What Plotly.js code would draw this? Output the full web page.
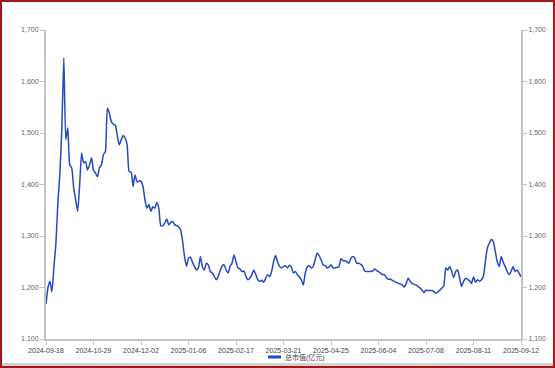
<!DOCTYPE html>
<html>
<head>
<meta charset="utf-8">
<script src="https://cdn.plot.ly/plotly-3.0.1.min.js"></script>
<style>
  html, body { margin: 0; padding: 0; background: #fff; }
  #wrap { position: relative; width: 555px; height: 368px; overflow: hidden; }
  #chart { position: absolute; left: 0; top: 0; width: 555px; height: 368px; }
  #frame { position: absolute; left: 0; top: 0; width: 555px; height: 368px; box-sizing: border-box;
           border: 2px solid #9e1a1a; pointer-events: none; }
  #shade { position: absolute; left: 2px; right: 2px; bottom: 2px; height: 3px; background: #d4d4d4; pointer-events: none; }
</style>
</head>
<body>
<div id="wrap">
  <div id="chart"></div>
  <div id="shade"></div>
  <div id="frame"></div>
</div>
<script>
// Trading dates (categories)
const dates = [
  "2024-09-18","2024-09-19","2024-09-20","2024-09-23","2024-09-24","2024-09-25","2024-09-26","2024-09-27","2024-09-30",
  "2024-10-08","2024-10-09","2024-10-10","2024-10-11","2024-10-14","2024-10-15","2024-10-16","2024-10-17","2024-10-18",
  "2024-10-21","2024-10-22","2024-10-23","2024-10-24","2024-10-25","2024-10-28","2024-10-29","2024-10-30","2024-10-31",
  "2024-11-01","2024-11-04","2024-11-05","2024-11-06","2024-11-07","2024-11-08","2024-11-11","2024-11-12","2024-11-13",
  "2024-11-14","2024-11-15","2024-11-18","2024-11-19","2024-11-20","2024-11-21","2024-11-22","2024-11-25","2024-11-26",
  "2024-11-27","2024-11-28","2024-11-29",
  "2024-12-02","2024-12-03","2024-12-04","2024-12-05","2024-12-06","2024-12-09","2024-12-10","2024-12-11","2024-12-12",
  "2024-12-13","2024-12-16","2024-12-17","2024-12-18","2024-12-19","2024-12-20","2024-12-23","2024-12-24","2024-12-25",
  "2024-12-26","2024-12-27","2024-12-30","2024-12-31",
  "2025-01-02","2025-01-03","2025-01-06","2025-01-07","2025-01-08","2025-01-09","2025-01-10","2025-01-13","2025-01-14",
  "2025-01-15","2025-01-16","2025-01-17","2025-01-20","2025-01-21","2025-01-22","2025-01-23","2025-01-24","2025-01-27",
  "2025-02-05","2025-02-06","2025-02-07","2025-02-10","2025-02-11","2025-02-12","2025-02-13","2025-02-14","2025-02-17",
  "2025-02-18","2025-02-19","2025-02-20","2025-02-21","2025-02-24","2025-02-25","2025-02-26","2025-02-27","2025-02-28",
  "2025-03-03","2025-03-04","2025-03-05","2025-03-06","2025-03-07","2025-03-10","2025-03-11","2025-03-12","2025-03-13",
  "2025-03-14","2025-03-17","2025-03-18","2025-03-19","2025-03-20","2025-03-21","2025-03-24","2025-03-25","2025-03-26",
  "2025-03-27","2025-03-28","2025-03-31",
  "2025-04-01","2025-04-02","2025-04-03","2025-04-07","2025-04-08","2025-04-09","2025-04-10","2025-04-11","2025-04-14",
  "2025-04-15","2025-04-16","2025-04-17","2025-04-18","2025-04-21","2025-04-22","2025-04-23","2025-04-24","2025-04-25",
  "2025-04-28","2025-04-29","2025-04-30",
  "2025-05-06","2025-05-07","2025-05-08","2025-05-09","2025-05-12","2025-05-13","2025-05-14","2025-05-15","2025-05-16",
  "2025-05-19","2025-05-20","2025-05-21","2025-05-22","2025-05-23","2025-05-26","2025-05-27","2025-05-28","2025-05-29",
  "2025-05-30",
  "2025-06-03","2025-06-04","2025-06-05","2025-06-06","2025-06-09","2025-06-10","2025-06-11","2025-06-12","2025-06-13",
  "2025-06-16","2025-06-17","2025-06-18","2025-06-19","2025-06-20","2025-06-23","2025-06-24","2025-06-25","2025-06-26",
  "2025-06-27","2025-06-30",
  "2025-07-01","2025-07-02","2025-07-03","2025-07-04","2025-07-07","2025-07-08","2025-07-09","2025-07-10","2025-07-11",
  "2025-07-14","2025-07-15","2025-07-16","2025-07-17","2025-07-18","2025-07-21","2025-07-22","2025-07-23","2025-07-24",
  "2025-07-25","2025-07-28","2025-07-29","2025-07-30","2025-07-31","2025-08-01",
  "2025-08-04","2025-08-05","2025-08-06","2025-08-07","2025-08-08","2025-08-11","2025-08-12","2025-08-13","2025-08-14",
  "2025-08-15","2025-08-18","2025-08-19","2025-08-20","2025-08-21","2025-08-22","2025-08-25","2025-08-26","2025-08-27",
  "2025-08-28","2025-08-29",
  "2025-09-01","2025-09-02","2025-09-03","2025-09-04","2025-09-05","2025-09-08","2025-09-09","2025-09-10","2025-09-11",
  "2025-09-12"
];

// 总市值(亿元)
const marketCap = [
  1168,1200,1212,1192,1240,1285,1365,1420,1510,
  1646,1487,1510,1438,1432,1393,1370,1348,1399,
  1461,1442,1444,1428,1438,1452,1428,1422,1415,
  1432,1438,1458,1464,1548,1539,1522,1517,1515,
  1496,1477,1487,1495,1490,1477,1425,1424,1396,
  1419,1405,1407,
  1406,1396,1370,1354,1361,1348,1357,1354,1365,
  1354,1320,1320,1325,1333,1322,1326,1328,1322,
  1320,1318,1312,1290,
  1260,1241,1257,1259,1249,1241,1234,1238,1260,
  1241,1234,1247,1244,1231,1228,1222,1215,1221,
  1233,1242,1244,1234,1228,1241,1247,1263,1250,
  1238,1236,1231,1232,1222,1215,1218,1225,1234,
  1225,1215,1212,1214,1210,1218,1225,1221,1231,
  1250,1262,1250,1241,1238,1241,1242,1238,1243,
  1239,1228,1231,
  1225,1221,1215,1205,1228,1240,1242,1238,1241,
  1254,1267,1262,1254,1244,1243,1238,1240,1244,
  1238,1238,1239,
  1240,1256,1252,1252,1250,1247,1256,1260,1257,
  1247,1247,1245,1241,1232,1231,1231,1231,1232,
  1236,
  1233,1231,1228,1225,1225,1219,1216,1216,1214,
  1212,1210,1208,1207,1205,1201,1208,1218,1212,
  1208,1206,
  1205,1202,1199,1195,1190,1195,1194,1194,1194,
  1192,1189,1192,1195,1199,1203,1238,1234,1241,
  1231,1219,1231,1234,1218,1202,
  1212,1218,1216,1213,1208,1221,1210,1215,1212,
  1215,1222,1250,1277,1286,1293,1289,1270,1250,
  1241,1260,
  1249,1241,1231,1225,1231,1241,1231,1234,1228,
  1221
];

const xTickLabels = ["2024-09-18","2024-10-29","2024-12-02","2025-01-06","2025-02-17","2025-03-21",
                     "2025-04-25","2025-06-04","2025-07-08","2025-08-11","2025-09-12"];
const yTicks = [1100,1200,1300,1400,1500,1600,1700];
const seriesName = "总市值(亿元)";
const lineColor = '#2449c4';

const fontFamily = '"Liberation Sans", "Noto Sans CJK SC", Arial, sans-serif';

const trace = {
  x: dates,
  y: marketCap,
  type: 'scatter',
  mode: 'lines',
  name: seriesName,
  showlegend: false,
  line: { color: lineColor, width: 1.5, shape: 'spline', smoothing: 0.5 },
  hoverinfo: 'x+y'
};

// empty trace so the mirrored right-hand axis is drawn
const rightAxisHolder = {
  x: [], y: [], type: 'scatter', mode: 'lines', yaxis: 'y2', showlegend: false, hoverinfo: 'skip'
};

const axisY = {
  range: [1100, 1700],
  tickmode: 'array',
  tickvals: yTicks,
  tickformat: ',d',
  showgrid: false,
  zeroline: false,
  showline: true,
  linecolor: '#c4c4c4',
  linewidth: 2,
  ticks: 'outside',
  ticklen: 4,
  tickcolor: '#c4c4c4',
  tickwidth: 1,
  tickfont: { family: fontFamily, size: 7, color: '#666' },
  fixedrange: true
};

const layout = {
  width: 555,
  height: 368,
  margin: { l: 46, r: 34, t: 30, b: 29 },
  paper_bgcolor: '#ffffff',
  plot_bgcolor: '#ffffff',
  showlegend: false,
  xaxis: {
    type: 'category',
    categoryorder: 'array',
    categoryarray: dates,
    range: [0, dates.length - 1],
    tickmode: 'array',
    tickvals: xTickLabels,
    ticktext: xTickLabels,
    tickangle: 0,
    showgrid: false,
    zeroline: false,
    showline: true,
    linecolor: '#c4c4c4',
    linewidth: 2,
    ticks: 'outside',
    ticklen: 4,
    tickcolor: '#c4c4c4',
    tickfont: { family: fontFamily, size: 7, color: '#444' },
    fixedrange: true
  },
  yaxis: Object.assign({}, axisY, { side: 'left' }),
  yaxis2: Object.assign({}, axisY, { side: 'right', overlaying: 'y', anchor: 'x' }),
  // legend (drawn as a key line + text, placed below the axis)
  shapes: [{
    type: 'line', xref: 'paper', yref: 'paper',
    x0: (268 - 46) / 475, x1: (281 - 46) / 475,
    y0: -18 / 309, y1: -18 / 309,
    line: { color: lineColor, width: 3 }
  }],
  annotations: [{
    xref: 'paper', yref: 'paper',
    x: (283 - 46) / 475, y: -18 / 309,
    xanchor: 'left', yanchor: 'middle',
    text: seriesName, showarrow: false,
    font: { family: fontFamily, size: 7, color: '#444' }
  }]
};

Plotly.newPlot('chart', [trace, rightAxisHolder], layout, { displayModeBar: false, staticPlot: true });
</script>
</body>
</html>
